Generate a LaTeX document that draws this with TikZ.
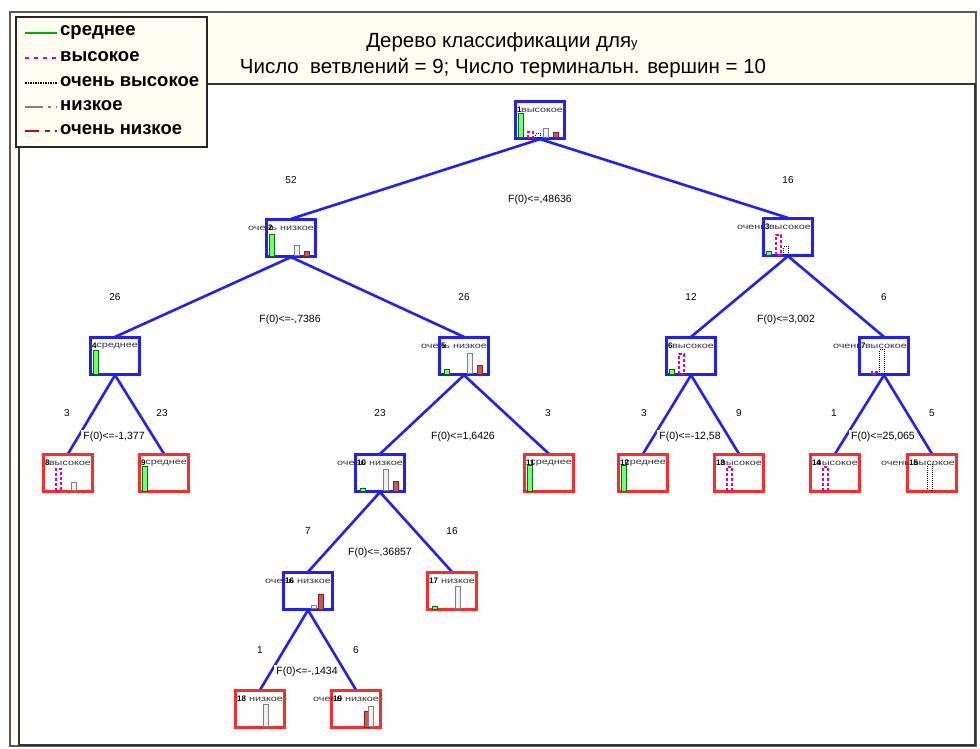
\documentclass[tikz,border=0pt]{standalone}
\usepackage{graphicx}
\usepackage{fontspec}
\setmainfont{Liberation Sans}
\definecolor{beige}{HTML}{FFFCF0}
\definecolor{edgeblue}{HTML}{2020FF}
\definecolor{boxred}{HTML}{FF2A2A}
\definecolor{dred}{HTML}{A01818}
\tikzset{
  edge/.style={draw=edgeblue, line width=2.6pt},
  inner/.style={draw=edgeblue, line width=2.2pt, minimum width=48pt, minimum height=36pt, inner sep=0pt},
  leaf/.style={draw=boxred, line width=2.2pt, minimum width=48pt, minimum height=36pt, inner sep=0pt},
  cnt/.style={font=\fontsize{10}{11}\selectfont, inner sep=1pt},
  split/.style={font=\fontsize{10.5}{11}\selectfont, fill=white, inner sep=2.5pt},
  nlab/.style={font=\fontsize{8}{8}\selectfont, text=black!80, anchor=east, inner sep=0pt},
  idlab/.style={font=\bfseries\fontsize{8}{8}\selectfont, anchor=west, inner sep=0pt},
  gb/.style={draw=green!45!black, fill=green!55!white, line width=0.8pt},
  mb/.style={draw=magenta, dashed, dash pattern=on 3pt off 2pt, line width=1.3pt},
  kb/.style={draw=black, dash pattern=on 1pt off 1pt, line width=1pt},
  grb/.style={draw=gray, fill=gray!12, line width=1pt},
  rb/.style={draw=dred, fill=dred!70, line width=0.8pt},
  legtext/.style={font=\bfseries\fontsize{18.5}{19}\selectfont, anchor=west, inner sep=0pt}
}
\newcommand\cbar[4]{\draw[#4] ([xshift=#2pt,yshift=1.2pt]#1.south west) rectangle ++(5pt,#3pt);}
\newcommand\nlabel[3]{\node[nlab] at ([xshift=-2pt,yshift=-9pt]#1.north east) {\scalebox{1.35}[1]{#3}};
  \node[idlab] at ([xshift=2pt,yshift=-9pt]#1.north west) {#2};}
\begin{document}
\begin{tikzpicture}[x=1pt,y=-1pt]
\useasboundingbox (0,0) rectangle (980,749);
\fill[white] (0,0) rectangle (980,749);
% frame
\filldraw[fill=beige, draw=black!65, line width=2pt] (10,12) rectangle (976,746);
\filldraw[fill=white, draw=black!80, line width=1.5pt] (19,84) rectangle (975,745);
% legend
\filldraw[fill=beige, draw=black!85, line width=2pt] (16,17) rectangle (207,147);
\coordinate (l1a) at (25,33); \coordinate (l1b) at (57,33);
\coordinate (l2a) at (25,58); \coordinate (l2b) at (57,58);
\coordinate (l3a) at (25,83); \coordinate (l3b) at (57,83);
\coordinate (l4a) at (25,107); \coordinate (l4b) at (57,107);
\coordinate (l5a) at (25,131); \coordinate (l5b) at (57,131);
\draw[green!70!black, line width=2pt] (l1a) -- (l1b);
\draw[magenta, line width=2.2pt, dash pattern=on 4pt off 5pt] (l2a) -- (l2b);
\draw[black, line width=1.2pt, dash pattern=on 1.5pt off 1pt] (l3a) -- (l3b);
\draw[gray, line width=1.6pt, dash pattern=on 18pt off 5pt on 3pt off 5pt] (l4a) -- (l4b);
\draw[dred, line width=2.2pt, dash pattern=on 14pt off 6pt on 5pt off 5pt] (l5a) -- (l5b);
\node[legtext] (t1) at (60,32) {среднее};
\node[legtext] (t2) at (60,57) {высокое};
\node[legtext] (t3) at (60,82) {очень высокое};
\node[legtext] (t4) at (60,106) {низкое};
\node[legtext] (t5) at (60,130) {очень низкое};
% title
\node[font=\fontsize{20.5}{21}\selectfont, inner sep=0pt] (title1) at (502,42) {Дерево классификации для{\fontsize{13}{13}\selectfont y}};
\node[font=\fontsize{20.5}{21}\selectfont, inner sep=0pt] (title2) at (503,68) {Число\ \ ветвлений = 9; Число терминальн. вершин = 10};
% nodes
\node[inner] (n1) at (540,120) {};
\node[inner] (n2) at (291,238) {};
\node[inner] (n3) at (788,237) {};
\node[inner] (n4) at (115,356) {};
\node[inner] (n5) at (464,356) {};
\node[inner] (n6) at (691,356) {};
\node[inner] (n7) at (884,356) {};
\node[leaf] (n8) at (68,473) {};
\node[leaf] (n9) at (164,473) {};
\node[inner] (n10) at (380,473) {};
\node[leaf] (n11) at (549,473) {};
\node[leaf] (n12) at (643,473) {};
\node[leaf] (n13) at (739,473) {};
\node[leaf] (n14) at (835,473) {};
\node[leaf] (n15) at (932,473) {};
\node[inner] (n16) at (308,591) {};
\node[leaf] (n17) at (452,591) {};
\node[leaf] (n18) at (260,709) {};
\node[leaf] (n19) at (356,709) {};
% edges
\draw[edge] (n1.south) -- (n2.north);
\draw[edge] (n1.south) -- (n3.north);
\draw[edge] (n2.south) -- (n4.north);
\draw[edge] (n2.south) -- (n5.north);
\draw[edge] (n3.south) -- (n6.north);
\draw[edge] (n3.south) -- (n7.north);
\draw[edge] (n4.south) -- (n8.north);
\draw[edge] (n4.south) -- (n9.north);
\draw[edge] (n5.south) -- (n10.north);
\draw[edge] (n5.south) -- (n11.north);
\draw[edge] (n6.south) -- (n12.north);
\draw[edge] (n6.south) -- (n13.north);
\draw[edge] (n7.south) -- (n14.north);
\draw[edge] (n7.south) -- (n15.north);
\draw[edge] (n10.south) -- (n16.north);
\draw[edge] (n10.south) -- (n17.north);
\draw[edge] (n16.south) -- (n18.north);
\draw[edge] (n16.south) -- (n19.north);
% redraw boxes over edges
\foreach \n in {n1,n2,n3,n4,n5,n6,n7,n10,n16}{\draw[draw=edgeblue, line width=2.2pt] (\n.south west) rectangle (\n.north east);}
\foreach \n in {n8,n9,n11,n12,n13,n14,n15,n17,n18,n19}{\draw[draw=boxred, line width=2.2pt] (\n.south west) rectangle (\n.north east);}
% bars
\cbar{n1}{3}{24}{gb} \cbar{n1}{13}{6}{mb} \cbar{n1}{21}{4}{kb} \cbar{n1}{29}{9}{grb} \cbar{n1}{38}{5}{rb}
\cbar{n2}{3}{22}{gb} \cbar{n2}{29}{10}{grb} \cbar{n2}{38}{5}{rb}
\cbar{n3}{3}{4}{gb} \cbar{n3}{13}{20}{mb} \cbar{n3}{21}{8}{kb}
\cbar{n4}{3}{24}{gb}
\cbar{n5}{5}{5}{gb} \cbar{n5}{29}{20}{grb} \cbar{n5}{38}{9}{rb}
\cbar{n6}{3}{5}{gb} \cbar{n6}{13}{20}{mb}
\cbar{n7}{13}{2}{mb} \cbar{n7}{21}{24}{kb}
\cbar{n8}{13}{22}{mb} \cbar{n8}{29}{8}{grb}
\cbar{n9}{3}{25}{gb}
\cbar{n10}{5}{3}{gb} \cbar{n10}{29}{21}{grb} \cbar{n10}{38}{10}{rb}
\cbar{n11}{3}{26}{gb}
\cbar{n12}{3}{26}{gb}
\cbar{n13}{13}{24}{mb}
\cbar{n14}{13}{24}{mb}
\cbar{n15}{21}{26}{kb}
\cbar{n16}{29}{3}{grb} \cbar{n16}{35}{15}{rb}
\cbar{n17}{5}{3}{gb} \cbar{n17}{29}{22}{grb}
\cbar{n18}{29}{22}{grb}
\cbar{n19}{33}{16}{rb} \cbar{n19}{38}{20}{grb}
% node labels
\nlabel{n1}{1}{высокое}
\nlabel{n2}{2}{очень низкое}
\nlabel{n3}{3}{очень высокое}
\nlabel{n4}{4}{среднее}
\nlabel{n5}{5}{очень низкое}
\nlabel{n6}{6}{высокое}
\nlabel{n7}{7}{очень высокое}
\nlabel{n8}{8}{высокое}
\nlabel{n9}{9}{среднее}
\nlabel{n10}{10}{очень низкое}
\nlabel{n11}{11}{среднее}
\nlabel{n12}{12}{среднее}
\nlabel{n13}{13}{высокое}
\nlabel{n14}{14}{высокое}
\nlabel{n15}{15}{очень высокое}
\nlabel{n16}{16}{очень низкое}
\nlabel{n17}{17}{низкое}
\nlabel{n18}{18}{низкое}
\nlabel{n19}{19}{очень низкое}
% counts
\node[cnt] (c2) at (291,180) {52};
\node[cnt] (c3) at (788,180) {16};
\node[cnt] (c4) at (115,297) {26};
\node[cnt] (c5) at (464,297) {26};
\node[cnt] (c6) at (691,297) {12};
\node[cnt] (c7) at (884,297) {6};
\node[cnt] (c8) at (67,413) {3};
\node[cnt] (c9) at (162,413) {23};
\node[cnt] (c10) at (380,413) {23};
\node[cnt] (c11) at (548,413) {3};
\node[cnt] (c12) at (644,413) {3};
\node[cnt] (c13) at (739,413) {9};
\node[cnt] (c14) at (834,413) {1};
\node[cnt] (c15) at (932,413) {5};
\node[cnt] (c16) at (308,531) {7};
\node[cnt] (c17) at (452,531) {16};
\node[cnt] (c18) at (260,650) {1};
\node[cnt] (c19) at (356,650) {6};
% splits
\node[split] (s1) at (540,200) {F(0)<=,48636};
\node[split] (s2) at (290,320) {F(0)<=-,7386};
\node[split] (s3) at (786,320) {F(0)<=3,002};
\node[split] (s4) at (114,437) {F(0)<=-1,377};
\node[split] (s5) at (463,437) {F(0)<=1,6426};
\node[split] (s6) at (690,437) {F(0)<=-12,58};
\node[split] (s7) at (883,437) {F(0)<=25,065};
\node[split] (s10) at (380,553) {F(0)<=,36857};
\node[split] (s16) at (307,672) {F(0)<=-,1434};
\end{tikzpicture}
\end{document}
